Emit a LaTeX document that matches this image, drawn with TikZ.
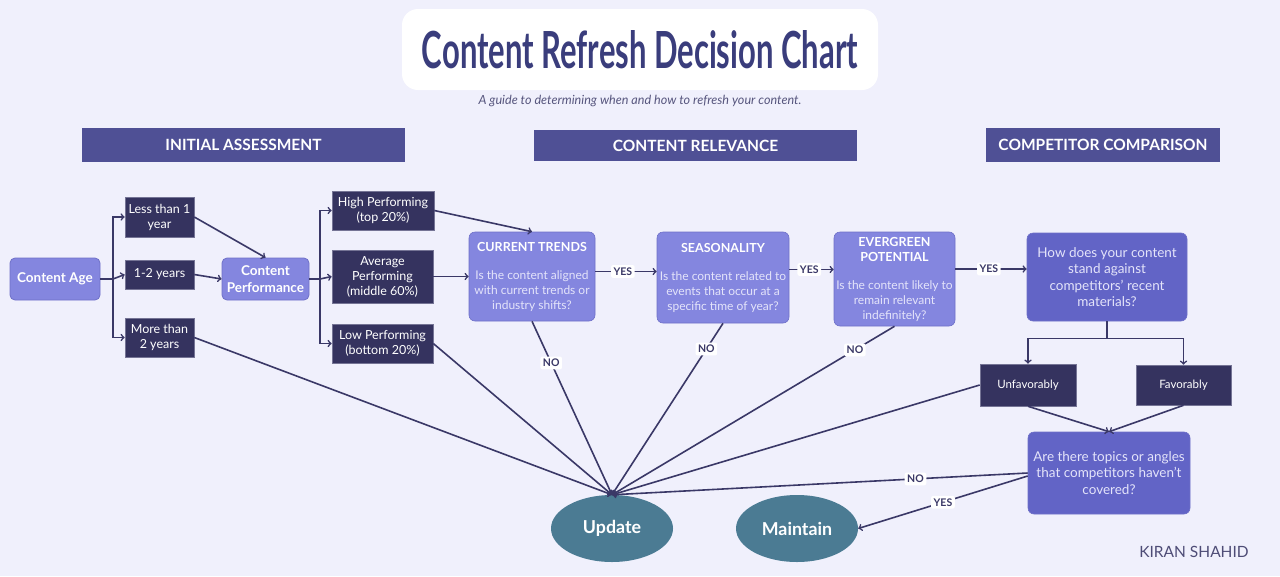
\documentclass[tikz,border=0pt]{standalone}
\usepackage{fontspec}
\usepackage{graphicx}
\setmainfont{Lato}
\usetikzlibrary{positioning,shapes.geometric}

\definecolor{pagebg}{HTML}{F0F0FC}
\definecolor{ink}{HTML}{3A3867}
\definecolor{headink}{HTML}{3A3D7C}
\definecolor{bandcol}{HTML}{4F5095}
\definecolor{navybox}{HTML}{35335F}
\definecolor{lightbox}{HTML}{8486DF}
\definecolor{lightedge}{HTML}{6E70C8}
\definecolor{midbox}{HTML}{6264C6}
\definecolor{paletext}{HTML}{E4E4FA}
\definecolor{outcomecol}{HTML}{4B7B93}

\newcommand{\checkhead}{\color{white}\bfseries\fontsize{12.5}{15}\selectfont}

\begin{document}
\begin{tikzpicture}
	[x=1pt, y=-1pt,
	link/.style={draw=ink, line width=1.6pt},
	band/.style={rectangle, fill=bandcol, text=white, font=\bfseries\fontsize{15.5}{17}\selectfont},
	startbox/.style={rectangle, rounded corners=5pt, draw=lightedge, line width=0.8pt, fill=lightbox, text=white, align=center, font=\bfseries\fontsize{13.5}{16.5}\selectfont},
	option/.style={rectangle, draw=ink!70, line width=0.6pt, fill=navybox, text=white, align=center, inner sep=1pt, font=\fontsize{12.5}{15}\selectfont},
	check/.style={rectangle, rounded corners=6pt, draw=lightedge, line width=0.6pt, fill=lightbox, text=paletext, align=center, inner sep=2pt, font=\fontsize{12}{15}\selectfont},
	ask/.style={rectangle, rounded corners=6pt, draw=lightedge, line width=0.6pt, fill=midbox, text=paletext, align=center, inner sep=2pt},
	outcome/.style={ellipse, fill=outcomecol, text=white, inner sep=0pt, minimum width=122pt, minimum height=67pt, font=\bfseries\fontsize{17.8}{20}\selectfont},
	answer/.style={rectangle, rounded corners=2pt, fill=white, text=ink, inner sep=2.5pt, font=\bfseries\fontsize{10.5}{12}\selectfont}]

	\useasboundingbox (0,0) rectangle (1280,576);
	\fill[pagebg] (0,0) rectangle (1280,576);

	\node[rectangle, rounded corners=16pt, fill=white, minimum width=476pt, minimum height=81pt] (title) at (640,49.5)
		{\color{headink}\resizebox{436pt}{38pt}{\bfseries Content Refresh Decision Chart}};
	\node[text=ink!85, font=\itshape\fontsize{12.6}{14}\selectfont] (subtitle) at (640,101)
		{A guide to determining when and how to refresh your content.};

	\node[band, minimum width=323pt, minimum height=34pt] (initial) at (243.5,145) {INITIAL ASSESSMENT};
	\node[band, minimum width=323pt, minimum height=31pt] (relevance) at (695.5,145.5) {CONTENT RELEVANCE};
	\node[band, minimum width=234pt, minimum height=34pt] (competitor) at (1103,145) {COMPETITOR COMPARISON};

	\node[startbox, minimum width=90pt, minimum height=42pt] (age) at (55,279) {Content Age};
	\node[option, minimum width=69pt, minimum height=40pt] (less) at (159.5,217) {Less than 1\\year};
	\node[option, minimum width=69pt, minimum height=29pt] (mid) at (159.5,274.5) {1-2 years};
	\node[option, minimum width=69pt, minimum height=39pt] (more) at (159.5,337.5) {More than\\2 years};
	\node[startbox, minimum width=87pt, minimum height=42pt] (perf) at (265.5,279) {Content\\Performance};
	\node[option, minimum width=102pt, minimum height=39pt] (high) at (383,210.5) {High Performing\\(top 20\%)};
	\node[option, minimum width=101pt, minimum height=53pt] (avg) at (382.5,276.5) {Average\\Performing\\(middle 60\%)};
	\node[option, minimum width=101pt, minimum height=39pt] (low) at (382.5,343.5) {Low Performing\\(bottom 20\%)};

	\node[check, minimum width=126pt, minimum height=89pt] (trends) at (532,276.5)
		{\checkhead CURRENT TRENDS\\[13pt]Is the content aligned\\with current trends or\\industry shifts?};
	\node[check, minimum width=132pt, minimum height=91pt] (season) at (723,277.5)
		{\checkhead SEASONALITY\\[13pt]Is the content related to\\events that occur at a\\specific time of year?};
	\node[check, minimum width=121pt, minimum height=94pt] (evergreen) at (894.5,279)
		{\checkhead EVERGREEN\\\checkhead POTENTIAL\\[13pt]Is the content likely to\\remain relevant\\indefinitely?};
	\node[ask, minimum width=160pt, minimum height=88pt, font=\fontsize{13.5}{16.5}\selectfont] (compare) at (1107,277)
		{How does your content\\stand against\\competitors' recent\\materials?};
	\node[option, minimum width=96pt, minimum height=42pt, font=\fontsize{11.5}{13}\selectfont] (unfav) at (1028,385) {Unfavorably};
	\node[option, minimum width=95pt, minimum height=40pt, font=\fontsize{11.5}{13}\selectfont] (fav) at (1183.5,385) {Favorably};
	\node[ask, minimum width=162pt, minimum height=82pt, font=\fontsize{13.5}{16.5}\selectfont] (gaps) at (1109,473)
		{Are there topics or angles\\that competitors haven't\\covered?};

	\node[outcome] (update) at (612,528.5) {Update};
	\node[outcome] (maintain) at (797,528.5) {Maintain};
	\node[text=ink!90, font=\fontsize{15.5}{18}\selectfont] (author) at (1194,552) {KIRAN SHAHID};

	\coordinate (agefork) at (113,279);
	\coordinate (perffork) at (320,279);
	\draw[link] (age.east) -- (agefork);
	\draw[link, ->] (agefork) |- (less.west);
	\draw[link, ->] (agefork) -- (mid.west);
	\draw[link, ->] (agefork) |- (more.west);
	\draw[link, ->] (less.east) -- (perf.north);
	\draw[link, ->] (mid.east) -- (perf.west);
	\draw[link] (perf.east) -- (perffork);
	\draw[link, ->] (perffork) |- (high.west);
	\draw[link, ->] (perffork) -- (avg.west);
	\draw[link, ->] (perffork) |- (low.west);
	\draw[link, ->] (high.east) -- (trends.north);
	\draw[link, ->] (avg.east) -- (trends.west);

	\draw[link, ->] ([yshift=5pt]trends.east) -- node[answer, pos=0.45] {YES} ([yshift=5pt]trends.east -| season.west);
	\draw[link, ->] ([yshift=8pt]season.east) -- node[answer, pos=0.45] {YES} ([yshift=8pt]season.east -| evergreen.west);
	\draw[link, ->] ([yshift=10pt]evergreen.east) -- node[answer, pos=0.47] {YES} ([yshift=10pt]evergreen.east -| compare.west);

	\draw[link, ->] (more.east) -- (update.north);
	\draw[link, ->] (low.east) -- (update.north);
	\draw[link, ->] (trends.south) -- node[answer, pos=0.24] {NO} (update.north);
	\draw[link, ->] (season.south) -- node[answer, pos=0.15] {NO} (update.north);
	\draw[link, ->] (evergreen.south) -- node[answer, pos=0.14] {NO} (update.north);
	\draw[link, ->] (unfav.west) -- (update.north);

	\draw[link] (compare.south) -- ++(0,17) coordinate (comparefork);
	\draw[link, ->] (comparefork) -| (unfav.north);
	\draw[link, ->] (comparefork) -| (fav.north);
	\draw[link, ->] (unfav.south) -- (gaps.north);
	\draw[link, ->] (fav.south) -- (gaps.north);
	\draw[link, ->] (gaps.west) -- node[answer, pos=0.27] {NO} (update.north);
	\draw[link, ->] ([yshift=-3pt]gaps.west) -- node[answer, pos=0.5] {YES} (maintain.east);
\end{tikzpicture}
\end{document}
